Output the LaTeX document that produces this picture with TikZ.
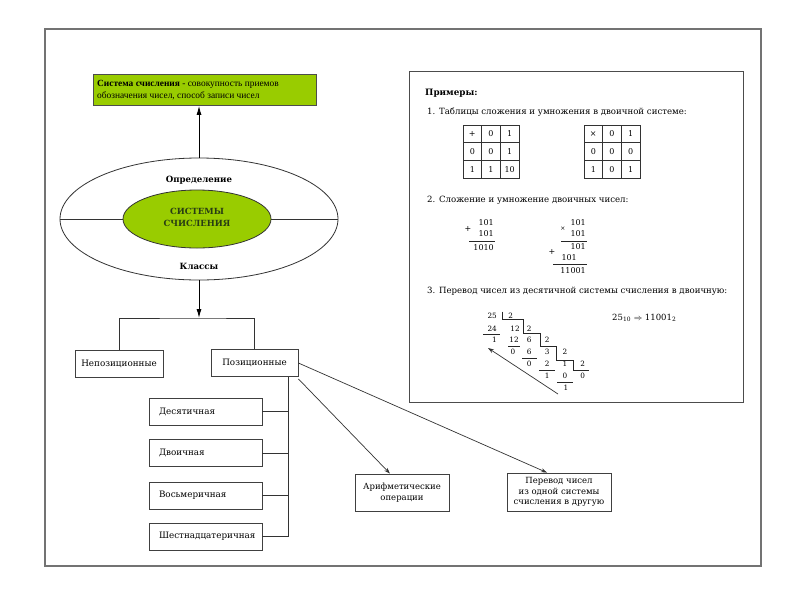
\documentclass[tikz,border=0pt]{standalone}
\usepackage{fontspec}
\setmainfont{DejaVu Serif}
\newfontfamily\timesf{Liberation Serif}
\usetikzlibrary{arrows.meta,shapes.geometric}
\definecolor{limeg}{RGB}{153,204,0}
\definecolor{txtgreen}{RGB}{40,60,20}
\tikzset{
  box/.style={draw=black!75, line width=0.8pt, minimum height=27pt, inner sep=2pt, font=\fontsize{8.8}{10}\selectfont},
  subbox/.style={box, minimum width=113pt, text width=93pt, inner xsep=10pt, align=left},
  arr/.style={-{Latex[length=9pt,width=5pt]}, line width=1pt},
  sarr/.style={-{Stealth[length=6pt,width=4pt]}, line width=0.7pt, black!80},
  conn/.style={line width=0.7pt, black!80},
  cell/.style={draw=black!80, line width=0.7pt, minimum width=18.7pt, minimum height=17.7pt, inner sep=0pt, font=\fontsize{8}{9}\selectfont},
  head/.style={anchor=west, inner sep=0pt, font=\fontsize{8.6}{10}\selectfont},
  num/.style={anchor=east, inner sep=0pt, font=\fontsize{8}{9}\selectfont},
  dig/.style={inner sep=0pt, font=\fontsize{8}{9}\selectfont},
  lnum/.style={anchor=east, inner sep=0pt, font=\fontsize{7.3}{8}\selectfont},
  ldig/.style={inner sep=0pt, font=\fontsize{7.3}{8}\selectfont},
  thin/.style={line width=0.6pt, black!85}
}
\begin{document}
\begin{tikzpicture}[x=1pt,y=-1pt]
\useasboundingbox (0,0) rectangle (800,600);
\fill[white] (0,0) rectangle (800,600);
\draw[black!55, line width=1.2pt] (45,29) rectangle (761,566);

% definition box
\node[draw=black!70, fill=limeg, line width=0.8pt, minimum width=223pt, minimum height=31pt, anchor=north west, inner sep=0pt] (def) at (93,74) {};
\node[anchor=west, align=left, inner sep=0pt, font=\timesf\fontsize{9.4}{12.5}\selectfont] (deftext) at (97,90) {\textbf{Система счисления} - совокупность приемов\\обозначения чисел, способ записи чисел};

% ellipses
\node[draw=black!80, line width=0.8pt, ellipse, minimum width=278pt, minimum height=122pt, inner sep=0pt] (outer) at (199,219) {};
\node[draw=black!80, line width=0.8pt, ellipse, fill=limeg, minimum width=148pt, minimum height=58pt, inner sep=0pt] (inner) at (197,219) {};
\draw[conn] (outer.west) -- (inner.west);
\draw[conn] (inner.east) -- (outer.east);
\node[font=\bfseries\fontsize{8.5}{10}\selectfont, color=txtgreen, align=center, inner sep=0pt] (innertext) at (197,217) {СИСТЕМЫ\\[2pt]СЧИСЛЕНИЯ};
\node[font=\bfseries\fontsize{8.6}{10}\selectfont, inner sep=0pt] (opred) at (199,180) {Определение};
\node[font=\bfseries\fontsize{8.6}{10}\selectfont, inner sep=0pt] (klass) at (199,266) {Классы};
\draw[arr] (outer.north) -- (outer.north |- def.south);

% classes tree
\coordinate (split) at (199,318);
\draw[arr] (outer.south) -- (split);
\node[box, minimum width=88pt] (nepos) at (119,363.5) {Непозиционные};
\node[box, minimum width=87pt] (posit) at (254.5,363) {Позиционные};
\draw[conn] (nepos.north) |- (split) -| (posit.north);

\node[subbox] (dec) at (205.5,411.5) {Десятичная};
\node[subbox] (bin) at (205.5,453) {Двоичная};
\node[subbox] (oct) at (205.5,495.5) {Восьмеричная};
\node[subbox] (hex) at (205.5,536.5) {Шестнадцатеричная};
\coordinate (vtop) at (288,377);
\draw[conn] (vtop) |- (hex.east);
\draw[conn] (dec.east) -- (dec.east -| vtop);
\draw[conn] (bin.east) -- (bin.east -| vtop);
\draw[conn] (oct.east) -- (oct.east -| vtop);

\node[box, minimum width=94pt, minimum height=37pt, align=center, font=\fontsize{8.5}{10.5}\selectfont] (arith) at (402,492.5) {Арифметические\\операции};
\node[box, minimum width=104pt, minimum height=38pt, align=center, font=\fontsize{8.5}{10.8}\selectfont] (perevod) at (559,492) {Перевод чисел\\из одной системы\\счисления в другую};
\draw[sarr] (posit.east) -- ([xshift=-12pt]perevod.north);
\draw[sarr] ([yshift=-2pt]posit.south east) -- ([xshift=-12pt]arith.north);

% examples panel
\node[draw=black!70, line width=1pt, minimum width=334pt, minimum height=331pt, anchor=north west, inner sep=0pt] (ex) at (409,71) {};
\node[head, font=\bfseries\fontsize{8.8}{10}\selectfont] (prim) at (425,93) {Примеры:};
\node[head] (h1) at (427,112) {1. Таблицы сложения и умножения в двоичной системе:};
\node[head] (h2) at (427,200) {2. Сложение и умножение двоичных чисел:};
\node[head] (h3) at (427,291) {3. Перевод чисел из десятичной системы счисления в двоичную:};

% tables
\foreach \r/\a/\b/\c in {0/+/0/1, 1/0/0/1, 2/1/1/10} {
  \node[cell] (ta-\r-0) at (472.3,{133.8+17.7*\r}) {\a};
  \node[cell] (ta-\r-1) at (491,{133.8+17.7*\r}) {\b};
  \node[cell] (ta-\r-2) at (509.7,{133.8+17.7*\r}) {\c};
}
\foreach \r/\a/\b/\c in {0/×/0/1, 1/0/0/0, 2/1/0/1} {
  \node[cell] (tb-\r-0) at (593.3,{133.8+17.7*\r}) {\a};
  \node[cell] (tb-\r-1) at (612,{133.8+17.7*\r}) {\b};
  \node[cell] (tb-\r-2) at (630.7,{133.8+17.7*\r}) {\c};
}

% addition
\node[dig] (ap) at (468,229) {+};
\node[num] (a1) at (494,223) {101};
\node[num] (a2) at (494,234) {101};
\draw[thin] (469,241) -- (495,241);
\node[num] (a3) at (494,248) {1010};
% multiplication
\node[dig] (mx) at (563,229) {\fontsize{6}{7}\selectfont ×};
\node[num] (m1) at (586,223) {101};
\node[num] (m2) at (586,234) {101};
\draw[thin] (561,241) -- (587,241);
\node[num] (m3) at (586,247) {101};
\node[dig] (mp) at (552,252) {+};
\node[num] (m4) at (577,258) {101};
\draw[thin] (553,264) -- (587,264);
\node[num] (m5) at (586,271) {11001};

% division ladder
\node[lnum] (d11) at (497,316) {25};
\node[ldig] (d12) at (510.7,316) {2};
\node[lnum] (d21) at (497,329) {24};
\node[ldig] (d22) at (515,329) {12};
\node[ldig] (d23) at (529.3,329) {2};
\node[lnum] (d31) at (497,340) {1};
\node[ldig] (d32) at (514,340) {12};
\node[ldig] (d33) at (529.3,340) {6};
\node[ldig] (d34) at (547.3,340) {2};
\node[ldig] (d42) at (513,352) {0};
\node[ldig] (d43) at (529.3,352) {6};
\node[ldig] (d44) at (547.3,352) {3};
\node[ldig] (d45) at (565,352) {2};
\node[ldig] (d53) at (529.3,364) {0};
\node[ldig] (d54) at (547.3,364) {2};
\node[ldig] (d55) at (565,364) {1};
\node[ldig] (d56) at (582.7,364) {2};
\node[ldig] (d64) at (547.3,376) {1};
\node[ldig] (d65) at (565,376) {0};
\node[ldig] (d66) at (582.7,376) {0};
\node[ldig] (d75) at (566,388) {1};
\draw[thin] (502,311.5) -- (502,319) -- (523,319) -- (523,333.3) -- (540,333.3) -- (540,346.7) -- (556.7,346.7) -- (556.7,360) -- (573.3,360) -- (573.3,370.7) -- (589.3,370.7);
\draw[thin] (483,334.3) -- (500,334.3);
\draw[thin] (508,346.7) -- (520,346.7);
\draw[thin] (522,358) -- (537,358);
\draw[thin] (539,370.7) -- (555,370.7);
\draw[thin] (557,382.7) -- (573,382.7);
\coordinate (arrS) at (558,394);
\coordinate (arrE) at (488,348);
\draw[sarr] (arrS) -- (arrE);
\node[anchor=west, inner sep=0pt, font=\fontsize{8.5}{10}\selectfont] (res) at (612,318) {25\textsubscript{10} $\Rightarrow$ 11001\textsubscript{2}};
\end{tikzpicture}
\end{document}
